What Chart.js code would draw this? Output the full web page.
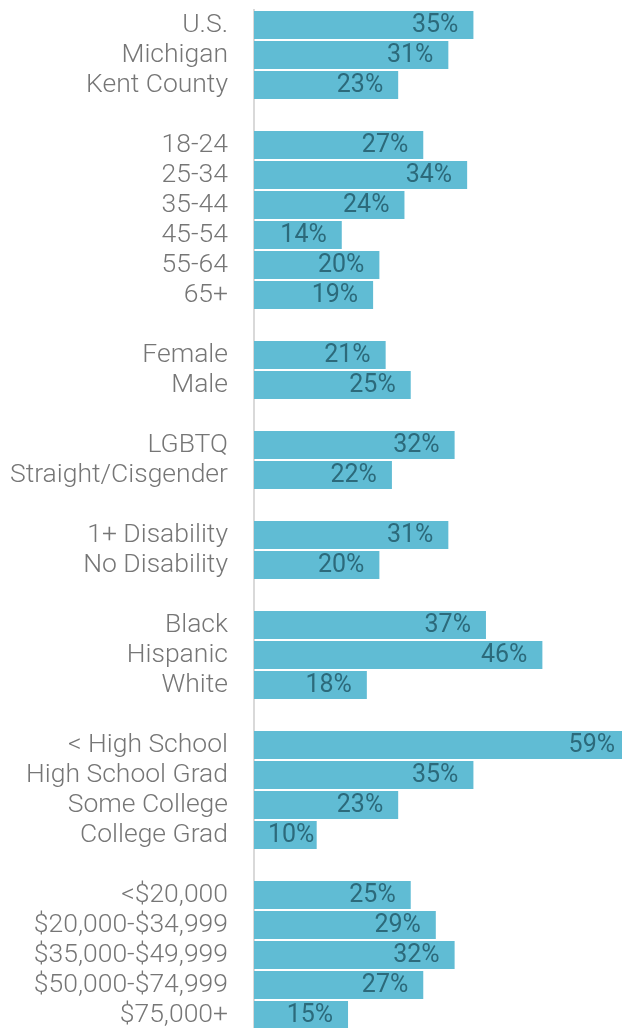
<!DOCTYPE html>
<html>
<head>
<meta charset="utf-8">
<script src="https://cdn.jsdelivr.net/npm/chart.js@4/dist/chart.umd.min.js"></script>
<style>
  html, body { margin: 0; padding: 0; background: #ffffff; overflow: hidden; }
  #wrap { position: relative; width: 622px; height: 1030px; }
</style>
</head>
<body>
<div id="wrap"><canvas id="c"></canvas></div>
<script>
const categories = [
  'U.S.', 'Michigan', 'Kent County', '',
  '18-24', '25-34', '35-44', '45-54', '55-64', '65+', '',
  'Female', 'Male', '',
  'LGBTQ', 'Straight/Cisgender', '',
  '1+ Disability', 'No Disability', '',
  'Black', 'Hispanic', 'White', '',
  '< High School', 'High School Grad', 'Some College', 'College Grad', '',
  '<$20,000', '$20,000-$34,999', '$35,000-$49,999', '$50,000-$74,999', '$75,000+'
];
const values = [
  35, 31, 23, null,
  27, 34, 24, 14, 20, 19, null,
  21, 25, null,
  32, 22, null,
  31, 20, null,
  37, 46, 18, null,
  59, 35, 23, 10, null,
  25, 29, 32, 27, 15
];
const xMin = 0;
const xMax = 58.7;

const barLabels = {
  id: 'barLabels',
  afterDatasetsDraw(chart) {
    const ctx = chart.ctx;
    const area = chart.chartArea;
    const meta = chart.getDatasetMeta(0);
    ctx.save();
    ctx.font = '400 25px Roboto';
    ctx.fillStyle = '#2c6a7b';
    ctx.textAlign = 'right';
    ctx.textBaseline = 'middle';
    meta.data.forEach((el, i) => {
      const v = values[i];
      if (v === null || v === undefined) return;
      const txt = v + '%';
      const w = ctx.measureText(txt).width;
      let x = el.x >= area.right ? area.right - 7 : el.x - 15;
      x = Math.max(x, el.base + 14 + w);
      ctx.fillText(txt, x, el.y + 1);
    });
    ctx.restore();
  }
};

new Chart(document.getElementById('c'), {
  type: 'bar',
  data: {
    labels: categories,
    datasets: [{
      data: values,
      backgroundColor: '#60bcd4',
      borderWidth: 0,
      barPercentage: 0.93,
      categoryPercentage: 1.0
    }]
  },
  options: {
    indexAxis: 'y',
    responsive: true,
    maintainAspectRatio: false,
    animation: false,
    layout: { padding: { top: 10, right: 0, bottom: 0, left: 0 } },
    plugins: { legend: { display: false }, tooltip: { enabled: false } },
    scales: {
      x: {
        display: false,
        min: xMin,
        max: xMax
      },
      y: {
        afterFit(scale) {
          scale.width = 254;
          scale.paddingTop = 0;
          scale.paddingBottom = 0;
        },
        grid: { display: false, drawTicks: false },
        border: { display: true, color: '#d9d9d9', width: 2 },
        ticks: {
          autoSkip: false,
          padding: 26,
          color: '#767676',
          font: { family: 'Roboto', size: 26.5, weight: '300' }
        }
      }
    }
  },
  plugins: [barLabels]
});
</script>
</body>
</html>
